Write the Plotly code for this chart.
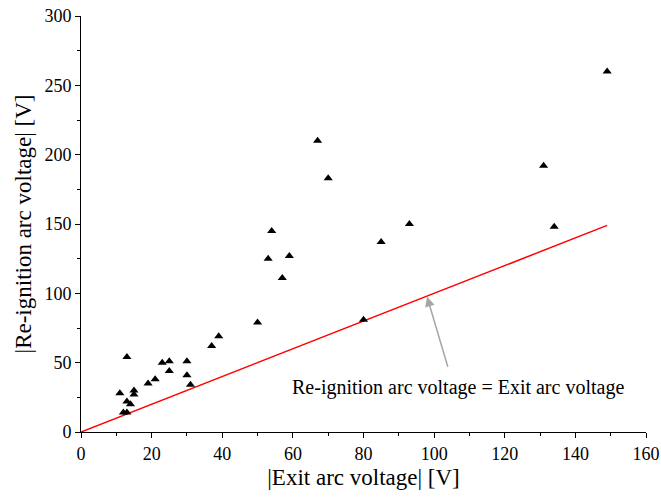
import plotly.graph_objects as go

exit_v = [149, 131, 134, 93, 85, 80, 67, 70, 54, 53, 59, 57, 50, 39, 37,
          13, 23, 25, 30, 25, 30, 31, 21, 19, 15, 15, 11, 13, 14, 12, 13]
reign_v = [260, 192, 148, 150, 137, 81, 210, 183, 145, 125, 127, 111, 79, 69, 62,
           54, 50, 51, 51, 44, 41, 34, 38, 35, 30, 27, 28, 22, 20, 14, 14]
line_x = [0, 149]
line_y = [0, 149]

font = "Liberation Serif, Times New Roman, serif"

fig = go.Figure()
fig.add_trace(go.Scatter(x=line_x, y=line_y, mode="lines",
                         line=dict(color="#ff0000", width=1.5), showlegend=False))
fig.add_trace(go.Scatter(x=exit_v, y=reign_v, mode="markers",
                         marker=dict(symbol="triangle-up", size=8, color="black"),
                         showlegend=False, cliponaxis=False))

fig.add_annotation(x=98, y=97.5, ax=104.0, ay=46.0, xref="x", yref="y",
                   axref="x", ayref="y", text="", showarrow=True,
                   arrowhead=2, arrowsize=1.3, arrowwidth=1.5, arrowcolor="#a6a6a6")
fig.add_annotation(x=106.8, y=32, xref="x", yref="y", text="Re-ignition arc voltage = Exit arc voltage",
                   showarrow=False, font=dict(family=font, size=20, color="black"))

axis_common = dict(showline=True, linecolor="black", linewidth=1, ticks="outside",
                   ticklen=5, tickcolor="black", showgrid=False, zeroline=False,
                   tickfont=dict(family=font, size=18, color="black"),
                   mirror=False, automargin=False, tickmode="linear", tick0=0,
                   ticklabeloverflow="allow")
fig.update_xaxes(range=[0, 160], dtick=20,
                 title=dict(text="|Exit arc voltage| [V]", font=dict(family=font, size=23, color="black"), standoff=6),
                 **axis_common)
fig.update_yaxes(range=[0, 300], dtick=50,
                 title=dict(text="|Re-ignition arc voltage| [V]", font=dict(family=font, size=23, color="black"), standoff=6),
                 **axis_common)
minor_common = dict(showline=False, ticks="outside", ticklen=3, tickcolor="black",
                    showgrid=False, zeroline=False, showticklabels=False,
                    tickmode="linear", tick0=0, automargin=False)
fig.update_layout(
    width=661, height=497, margin=dict(l=81, r=15, t=16, b=65),
    plot_bgcolor="white", paper_bgcolor="white",
    xaxis2=dict(overlaying="x", side="bottom", anchor="y", range=[0, 160], dtick=10, **minor_common),
    yaxis2=dict(overlaying="y", side="left", anchor="x", range=[0, 300], dtick=25, **minor_common),
)
fig.add_trace(go.Scatter(x=[], y=[], xaxis="x2", yaxis="y2", showlegend=False, hoverinfo="skip"))
fig.write_html("out.html", config={"displayModeBar": False},
               post_script="document.body.style.margin='0';document.body.style.overflow='hidden';")
